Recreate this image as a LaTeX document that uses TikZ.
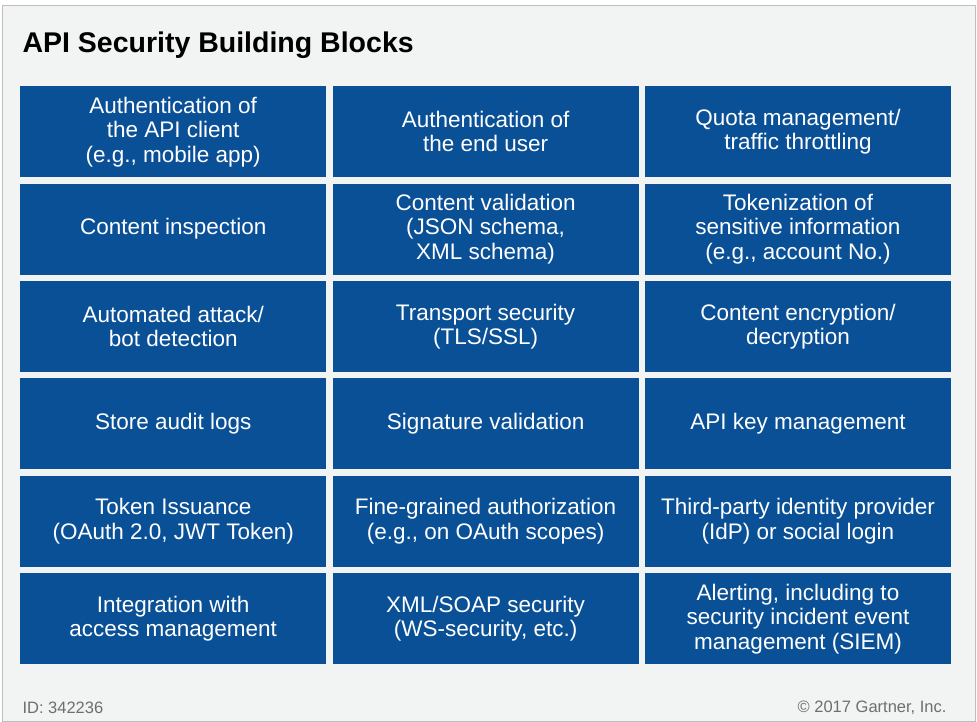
\documentclass[tikz,border=0pt]{standalone}
\usepackage{fontspec}
\setmainfont{Liberation Sans}
\usetikzlibrary{positioning}
\definecolor{gblue}{RGB}{10,80,150}
\definecolor{gback}{RGB}{242,243,243}
\definecolor{gframe}{RGB}{190,190,190}
\definecolor{gfoot}{RGB}{110,110,110}
\begin{document}
\begin{tikzpicture}[x=1pt, y=-1pt,
  block/.style={fill=gblue, text=white, minimum width=306pt, minimum height=91pt,
    inner sep=0pt, align=center, font=\fontsize{22.5}{24.5}\selectfont, anchor=north west},
  foot/.style={text=gfoot, font=\fontsize{16.5}{19}\selectfont}]
  % Hintergrund und Rahmen
  \useasboundingbox (0,0) rectangle (977,721);
  \draw[gframe, fill=gback] (2,5) rectangle (975,721);
  % Titel
  \node[anchor=west, font=\bfseries\fontsize{28.5}{32}\selectfont] (title) at (19,45) {API Security Building Blocks};

  % Zeile 1
  \node[block] (auth) at (20,86) {Authentication of\\the API client\\(e.g., mobile app)};
  \node[block, right=6pt of auth.north east, anchor=north west] (enduser) {Authentication of\\the end user};
  \node[block, right=6pt of enduser.north east, anchor=north west] (quota) {Quota management/\\traffic throttling};
  % Zeile 2
  \node[block, below=6pt of auth.south west, anchor=north west] (inspect) {Content inspection};
  \node[block, right=6pt of inspect.north east, anchor=north west] (valid) {Content validation\\(JSON schema,\\XML schema)};
  \node[block, right=6pt of valid.north east, anchor=north west] (token) {Tokenization of\\sensitive information\\(e.g., account No.)};
  % Zeile 3
  \node[block, below=6pt of inspect.south west, anchor=north west] (bot) {Automated attack/\\bot detection};
  \node[block, right=6pt of bot.north east, anchor=north west] (tls) {Transport security\\(TLS/SSL)};
  \node[block, right=6pt of tls.north east, anchor=north west] (encrypt) {Content encryption/\\decryption};
  % Zeile 4
  \node[block, below=6pt of bot.south west, anchor=north west] (audit) {Store audit logs};
  \node[block, right=6pt of audit.north east, anchor=north west] (sign) {Signature validation};
  \node[block, right=6pt of sign.north east, anchor=north west] (apikey) {API key management};
  % Zeile 5
  \node[block, below=6pt of audit.south west, anchor=north west] (issue) {Token Issuance\\(OAuth 2.0, JWT Token)};
  \node[block, right=6pt of issue.north east, anchor=north west] (authz) {Fine-grained authorization\\(e.g., on OAuth scopes)};
  \node[block, right=6pt of authz.north east, anchor=north west] (idp) {Third-party identity provider\\(IdP) or social login};
  % Zeile 6
  \node[block, below=6pt of issue.south west, anchor=north west] (access) {Integration with\\access management};
  \node[block, right=6pt of access.north east, anchor=north west] (soap) {XML/SOAP security\\(WS-security, etc.)};
  \node[block, right=6pt of soap.north east, anchor=north west] (siem) {Alerting, including to\\security incident event\\management (SIEM)};

  % Fusszeile
  \node[foot, anchor=west] (id) at (19,708) {ID: 342236};
  \node[foot, anchor=east] (copy) at (950,708) {© 2017 Gartner, Inc.};
\end{tikzpicture}
\end{document}
